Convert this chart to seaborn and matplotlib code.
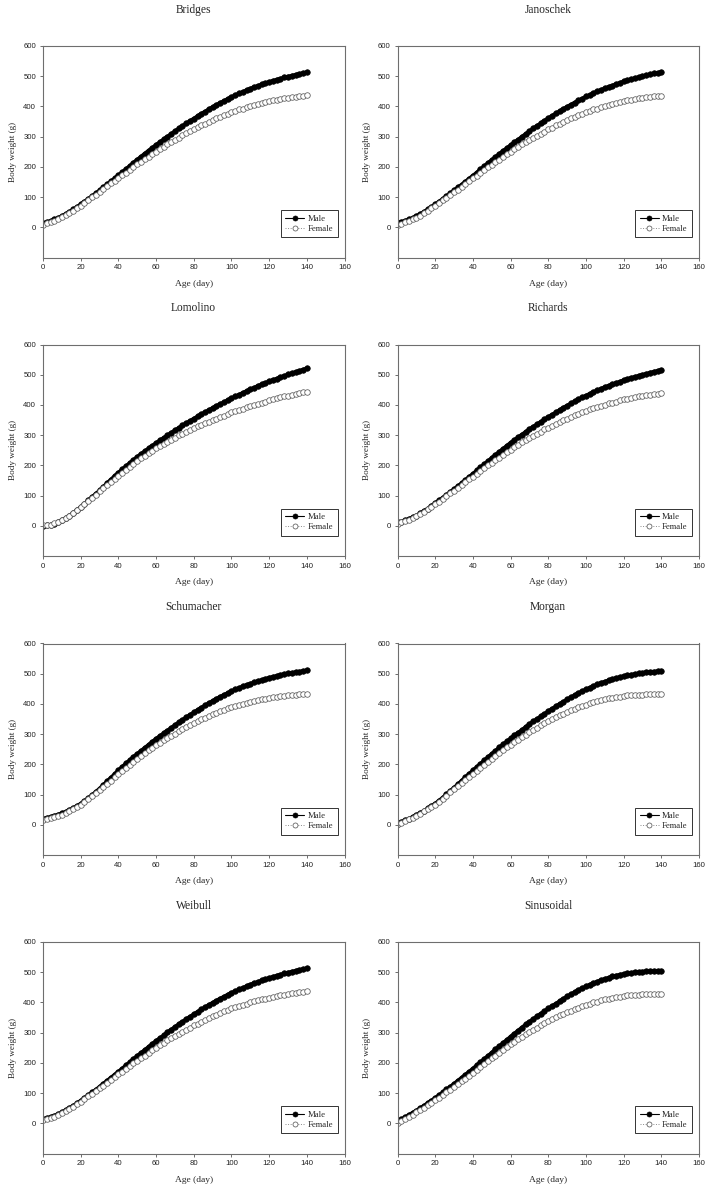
import matplotlib
matplotlib.use('Agg')
import matplotlib.pyplot as plt
import seaborn as sns

# Age in days (markers every 2 days)
age = list(range(0, 141, 2))

# Predicted body weight (g)
bridges_male = [14, 17, 21, 26, 31, 37, 44, 51, 59, 67, 76, 85, 94, 103, 112, 122, 132, 142, 152, 162, 172,
                182, 193, 203, 214, 224, 234, 244, 254, 263, 273, 282, 291, 300, 309, 318, 327, 335, 344, 352,
                360, 368, 376, 383, 391, 398, 405, 412, 418, 425, 431, 437, 443, 448, 454, 459, 464, 468, 473,
                477, 481, 485, 489, 492, 496, 499, 502, 505, 508, 510, 513]
bridges_female = [9, 13, 17, 22, 27, 33, 40, 48, 55, 64, 72, 81, 90, 99, 108, 117, 126, 135, 145, 154, 163,
                  172, 181, 190, 199, 208, 217, 225, 233, 242, 250, 258, 266, 274, 282, 290, 297, 304, 311, 318,
                  325, 331, 338, 343, 349, 355, 361, 366, 371, 376, 381, 385, 390, 393, 397, 401, 405, 408, 411,
                  414, 417, 420, 422, 424, 427, 429, 431, 432, 434, 435, 437]

janoschek_male = [15, 18, 22, 26, 31, 37, 44, 51, 59, 67, 76, 85, 94, 103, 112, 122, 132, 141, 151, 161, 171,
                  181, 192, 202, 213, 223, 233, 243, 253, 262, 272, 281, 290, 300, 309, 318, 327, 336, 344, 353,
                  361, 369, 377, 384, 392, 399, 406, 413, 420, 426, 433, 438, 444, 450, 455, 460, 465, 469, 474,
                  478, 483, 486, 490, 494, 497, 500, 503, 506, 509, 511, 514]
janoschek_female = [7, 11, 16, 21, 26, 32, 39, 47, 55, 63, 71, 80, 89, 98, 107, 116, 125, 134, 144, 153, 162,
                    171, 180, 189, 198, 207, 216, 224, 233, 241, 250, 258, 266, 274, 281, 289, 296, 303, 310, 317,
                    324, 330, 337, 343, 349, 355, 361, 366, 371, 376, 381, 385, 390, 393, 397, 401, 405, 408, 411,
                    414, 417, 420, 422, 424, 427, 429, 430, 432, 433, 435, 436]

lomolino_male = [0, 1, 3, 7, 12, 18, 25, 33, 42, 52, 62, 73, 84, 95, 106, 117, 129, 141, 153, 165, 176,
                 187, 197, 208, 218, 228, 238, 247, 256, 265, 274, 283, 291, 299, 308, 316, 324, 332, 340, 347,
                 355, 362, 369, 376, 383, 390, 397, 403, 409, 416, 422, 428, 434, 440, 446, 452, 457, 463, 468,
                 473, 478, 483, 487, 492, 496, 501, 505, 509, 513, 517, 521]
lomolino_female = [1, 2, 4, 8, 12, 18, 25, 33, 42, 51, 61, 71, 82, 92, 103, 114, 125, 135, 145, 156, 166,
                   176, 186, 195, 205, 214, 223, 232, 240, 248, 256, 264, 271, 278, 285, 292, 299, 305, 311, 317,
                   323, 329, 334, 339, 345, 350, 355, 360, 365, 370, 375, 379, 384, 388, 392, 396, 400, 404, 408,
                   411, 415, 418, 422, 425, 428, 431, 434, 436, 439, 442, 444]

richards_male = [11, 14, 18, 23, 28, 34, 41, 49, 57, 66, 75, 84, 93, 102, 112, 121, 131, 141, 151, 162, 172,
                 183, 193, 204, 214, 225, 235, 245, 255, 265, 275, 284, 293, 302, 311, 320, 328, 336, 344, 352,
                 360, 368, 375, 383, 391, 398, 405, 412, 418, 425, 431, 437, 443, 448, 454, 459, 464, 468, 473,
                 477, 482, 486, 490, 493, 497, 500, 503, 507, 510, 513, 516]
richards_female = [7, 11, 15, 20, 25, 31, 38, 46, 54, 62, 71, 80, 89, 98, 107, 116, 125, 135, 144, 154, 163,
                   172, 181, 191, 200, 209, 218, 226, 235, 243, 252, 260, 268, 276, 283, 291, 298, 305, 312, 319,
                   325, 331, 338, 343, 349, 355, 361, 366, 371, 376, 381, 385, 390, 393, 397, 401, 405, 408, 411,
                   415, 418, 421, 423, 425, 428, 430, 432, 434, 436, 437, 439]

schumacher_male = [20, 23, 26, 30, 34, 38, 43, 49, 55, 62, 70, 79, 88, 98, 109, 120, 132, 144, 156, 168, 180,
                   192, 203, 214, 225, 235, 245, 255, 265, 275, 285, 294, 303, 312, 321, 330, 339, 347, 356, 364,
                   372, 380, 388, 395, 403, 410, 417, 424, 430, 436, 442, 448, 453, 458, 463, 467, 471, 476, 479,
                   483, 487, 490, 493, 496, 499, 501, 503, 505, 507, 509, 511]
schumacher_female = [16, 19, 22, 26, 30, 34, 39, 45, 52, 59, 67, 76, 85, 94, 104, 114, 125, 135, 146, 157, 168,
                     179, 189, 199, 209, 219, 228, 238, 247, 255, 264, 272, 280, 287, 295, 302, 309, 316, 323, 329,
                     336, 342, 349, 354, 360, 366, 371, 376, 381, 386, 390, 394, 398, 401, 404, 407, 410, 412, 415,
                     417, 420, 422, 424, 425, 427, 428, 429, 430, 432, 433, 434]

morgan_male = [4, 9, 15, 20, 26, 32, 39, 46, 54, 62, 70, 80, 90, 101, 112, 123, 134, 146, 157, 169, 180,
               191, 202, 213, 224, 235, 245, 256, 266, 276, 286, 296, 305, 314, 324, 333, 342, 350, 359, 367,
               376, 384, 392, 400, 407, 415, 422, 429, 436, 442, 448, 454, 459, 465, 470, 474, 478, 482, 486,
               489, 492, 495, 497, 499, 501, 503, 505, 506, 507, 508, 508]
morgan_female = [2, 7, 13, 18, 24, 30, 37, 44, 51, 59, 67, 76, 86, 96, 107, 117, 127, 138, 148, 159, 169,
                 179, 189, 199, 209, 219, 228, 238, 247, 256, 265, 274, 282, 290, 298, 306, 314, 321, 329, 336,
                 343, 350, 356, 362, 368, 374, 379, 384, 389, 394, 398, 402, 406, 409, 412, 415, 418, 420, 422,
                 424, 426, 428, 429, 430, 431, 431, 432, 432, 432, 433, 433]

weibull_male = [14, 17, 21, 25, 30, 36, 43, 50, 58, 66, 75, 84, 93, 102, 111, 121, 131, 141, 151, 161, 171,
                181, 192, 202, 213, 223, 233, 243, 253, 263, 273, 282, 291, 301, 310, 319, 328, 336, 345, 353,
                361, 369, 377, 384, 392, 399, 406, 413, 419, 426, 432, 437, 443, 448, 454, 459, 464, 468, 473,
                477, 481, 485, 489, 492, 496, 499, 502, 505, 508, 510, 513]
weibull_female = [10, 14, 18, 22, 27, 33, 40, 47, 55, 63, 71, 80, 89, 98, 107, 116, 125, 134, 144, 153, 162,
                  171, 180, 189, 198, 207, 216, 224, 233, 241, 250, 258, 266, 274, 281, 289, 296, 303, 310, 317,
                  324, 330, 336, 342, 348, 354, 360, 365, 370, 375, 380, 384, 388, 392, 396, 400, 404, 407, 410,
                  413, 416, 419, 421, 424, 426, 428, 430, 432, 434, 435, 437]

sinusoidal_male = [6, 13, 20, 27, 35, 42, 50, 58, 67, 75, 84, 93, 102, 112, 121, 131, 141, 151, 161, 171, 181,
                   192, 202, 213, 223, 234, 245, 255, 266, 276, 287, 297, 307, 317, 327, 336, 345, 354, 363, 371,
                   380, 388, 396, 404, 412, 420, 427, 434, 441, 447, 453, 459, 464, 469, 474, 478, 482, 486, 489,
                   492, 494, 496, 498, 500, 501, 502, 503, 503, 504, 504, 504]
sinusoidal_female = [1, 8, 15, 22, 29, 36, 44, 51, 59, 68, 76, 85, 93, 102, 111, 120, 129, 139, 148, 158, 167,
                     177, 186, 196, 205, 215, 224, 234, 243, 252, 261, 270, 278, 286, 294, 302, 310, 317, 324, 331,
                     338, 345, 351, 357, 363, 368, 373, 378, 383, 388, 392, 396, 400, 403, 407, 410, 413, 415, 417,
                     419, 421, 423, 424, 425, 426, 427, 428, 428, 428, 429, 429]

models = ['Bridges', 'Janoschek', 'Lomolino', 'Richards',
          'Schumacher', 'Morgan', 'Weibull', 'Sinusoidal']
male_series = [bridges_male, janoschek_male, lomolino_male, richards_male,
               schumacher_male, morgan_male, weibull_male, sinusoidal_male]
female_series = [bridges_female, janoschek_female, lomolino_female, richards_female,
                 schumacher_female, morgan_female, weibull_female, sinusoidal_female]

sns.set_style('ticks')
plt.rcParams['font.family'] = ['Liberation Sans', 'DejaVu Sans']
serif = ['Liberation Serif', 'DejaVu Serif']

W, H = 713, 1199
fig = plt.figure(figsize=(W / 100, H / 100), dpi=100)

# axes placement in pixels
lefts = [43, 397.5]
tops = [46, 344.5, 643.5, 942]
aw, ah = 301.5, 211.5

for i, name in enumerate(models):
    r, c = divmod(i, 2)
    ax = fig.add_axes([lefts[c] / W, 1 - (tops[r] + ah) / H, aw / W, ah / H])

    # thick line underneath so the dense filled markers read as one band
    sns.lineplot(x=age, y=male_series[i], ax=ax, color='black', linewidth=2.6,
                 marker='o', markersize=4.0, markerfacecolor='black',
                 markeredgecolor='black', markeredgewidth=0.5, label='Male')
    sns.lineplot(x=age, y=female_series[i], ax=ax, color='#8a8a8a', linewidth=0.7,
                 linestyle=':', marker='o', markersize=4.0, markerfacecolor='white',
                 markeredgecolor='#5a5a5a', markeredgewidth=0.55, label='Female')

    ax.set_xlim(0, 160)
    ax.set_ylim(-100, 600)
    ax.set_xticks(range(0, 161, 20))
    ax.set_yticks(range(0, 601, 100))
    ax.tick_params(direction='out', length=2.5, width=0.6, color='#555555',
                   labelsize=5.6, pad=2.5, labelcolor='#222222')
    for s in ax.spines.values():
        s.set_color('#6e6e6e')
        s.set_linewidth(0.8)

    ax.set_xlabel('Age (day)', family=serif, fontsize=6.8, labelpad=6)
    ax.set_ylabel('Body weight (g)', family=serif, fontsize=6.6, labelpad=4.5)
    ax.set_title(name, family=serif, fontsize=8.3, pad=24)

    leg = ax.legend(loc='lower right', bbox_to_anchor=(0.978, 0.095),
                    prop={'family': serif, 'size': 6.2}, frameon=True, fancybox=False,
                    edgecolor='#333333', framealpha=1, handlelength=2.2,
                    handletextpad=0.4, borderpad=0.55, labelspacing=0.2,
                    borderaxespad=0, markerscale=0.9)
    leg.get_frame().set_linewidth(0.7)
    leg.legend_handles[0].set_linewidth(0.8)

fig.savefig('out.png', dpi=100, facecolor='white')
